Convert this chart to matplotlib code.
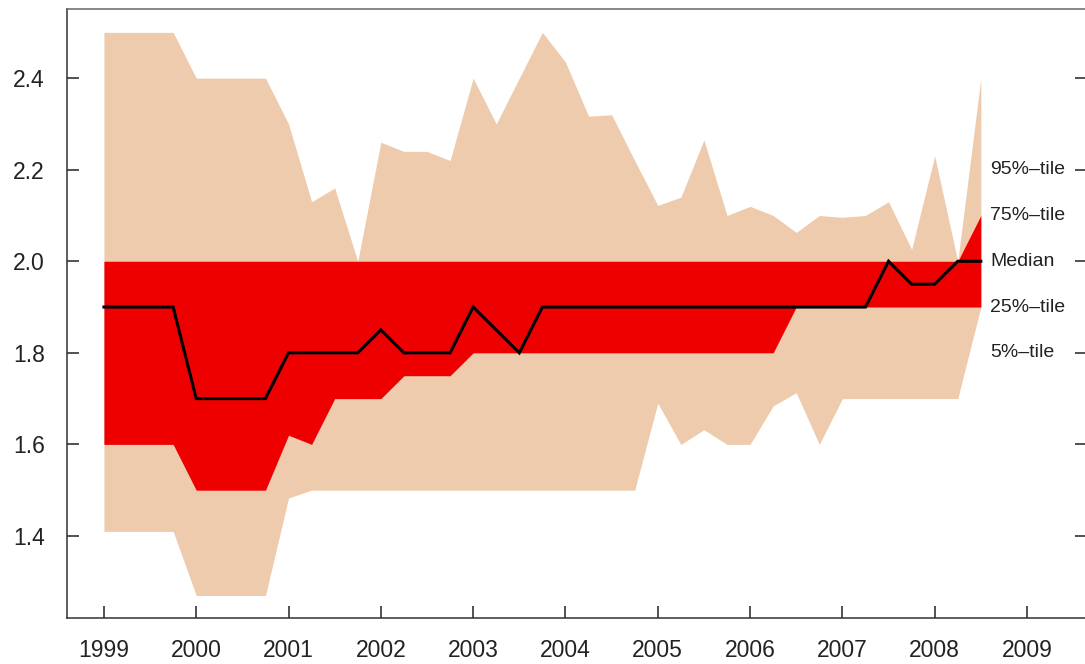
import numpy as np
import matplotlib
matplotlib.use("Agg")
import matplotlib.pyplot as plt

plt.rcParams["font.family"] = ["Liberation Sans", "DejaVu Sans"]

# quarterly observations, 1999Q1 .. 2008Q3
quarters = np.arange(1999, 2008.51, 0.25)

p95 = [2.5, 2.5, 2.5, 2.5, 2.4, 2.4, 2.4, 2.4,
       2.3, 2.13, 2.16, 2.0, 2.26, 2.24, 2.24, 2.22,
       2.4, 2.3, 2.4, 2.5, 2.435, 2.317, 2.32, 2.22,
       2.122, 2.14, 2.265, 2.10, 2.12, 2.10, 2.063, 2.10,
       2.096, 2.10, 2.13, 2.026, 2.23, 2.0, 2.4]
p75 = [2.0] * 38 + [2.1]
median = [1.9, 1.9, 1.9, 1.9, 1.7, 1.7, 1.7, 1.7,
          1.8, 1.8, 1.8, 1.8, 1.85, 1.8, 1.8, 1.8,
          1.9, 1.85, 1.8, 1.9, 1.9, 1.9, 1.9, 1.9,
          1.9, 1.9, 1.9, 1.9, 1.9, 1.9, 1.9, 1.9,
          1.9, 1.9, 2.0, 1.95, 1.95, 2.0, 2.0]
p25 = [1.6, 1.6, 1.6, 1.6, 1.5, 1.5, 1.5, 1.5,
       1.62, 1.6, 1.7, 1.7, 1.7, 1.75, 1.75, 1.75,
       1.8, 1.8, 1.8, 1.8, 1.8, 1.8, 1.8, 1.8,
       1.8, 1.8, 1.8, 1.8, 1.8, 1.8, 1.9, 1.9,
       1.9, 1.9, 1.9, 1.9, 1.9, 1.9, 1.9]
p05 = [1.41, 1.41, 1.41, 1.41, 1.27, 1.27, 1.27, 1.27,
       1.483, 1.5, 1.5, 1.5, 1.5, 1.5, 1.5, 1.5,
       1.5, 1.5, 1.5, 1.5, 1.5, 1.5, 1.5, 1.5,
       1.69, 1.6, 1.632, 1.6, 1.6, 1.684, 1.713, 1.6,
       1.7, 1.7, 1.7, 1.7, 1.7, 1.7, 1.9]

band_labels = ["95%\u2013tile", "75%\u2013tile", "Median", "25%\u2013tile", "5%\u2013tile"]
year_ticks = list(range(1999, 2010))
value_ticks = [1.4, 1.6, 1.8, 2.0, 2.2, 2.4]

fig = plt.figure(figsize=(10.85, 6.64), dpi=100)
ax = fig.add_axes([67 / 1085, 1 - 618 / 664, 1020 / 1085, 609 / 664])

ax.fill_between(quarters, p05, p95, color="#EECBAD", lw=0)
ax.fill_between(quarters, p25, p75, color="#EE0000", lw=0)
ax.plot(quarters, median, color="black", lw=2.2, solid_joinstyle="miter")

ax.set_xlim(1998.6, 2009.65)
ax.set_ylim(1.2208, 2.551)

ax.set_xticks(year_ticks)
ax.set_yticks(value_ticks)
ax.set_yticklabels(["%.1f" % v for v in value_ticks])
ax.tick_params(axis="both", direction="in", length=8.5, width=1.1,
               colors="#222222", labelsize=16.5, labelcolor="#222222")
ax.tick_params(axis="y", pad=16)
ax.tick_params(axis="x", pad=15)
ax.tick_params(axis="y", which="both", right=True, labelright=False)
for t in ax.yaxis.get_ticklines()[1::2]:
    t.set_color("#777777")

for s in ["left", "bottom"]:
    ax.spines[s].set_color("#333333")
    ax.spines[s].set_linewidth(1.1)
ax.spines["top"].set_color("#666666")
ax.spines["top"].set_linewidth(1.1)
ax.spines["right"].set_visible(False)

# band names stacked beside the last quarter
for lab, yy in zip(band_labels, [2.2, 2.1, 2.0, 1.9, 1.8]):
    ax.text(2008.6, yy, lab, fontsize=14, color="#222222",
            ha="left", va="center")

fig.savefig("out.png", dpi=100)
